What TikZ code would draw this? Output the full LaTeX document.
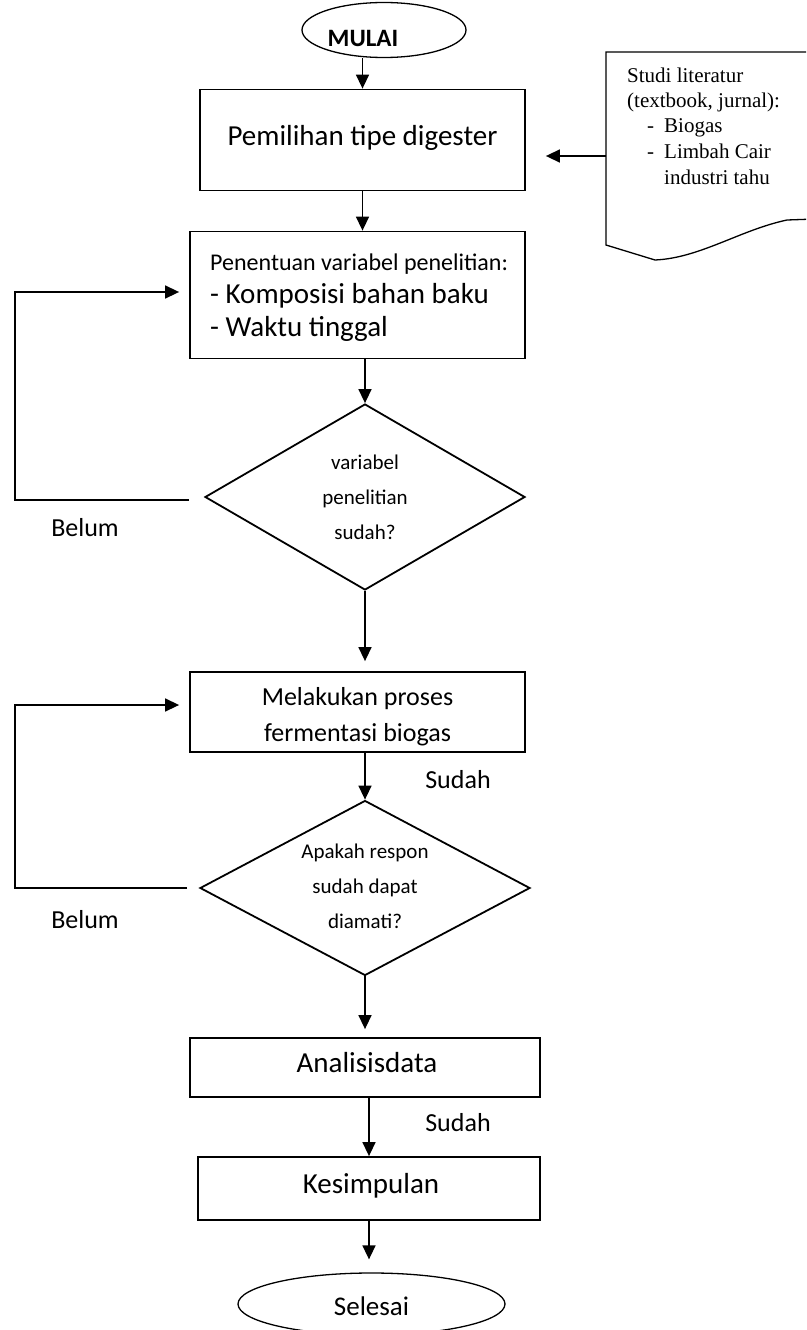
\documentclass[tikz,border=0pt]{standalone}
\usepackage{fontspec}
\setmainfont{Carlito}
\newfontfamily\tnr{Liberation Serif}
\usetikzlibrary{shapes.geometric,arrows.meta}
\begin{document}
\begin{tikzpicture}[x=1pt,y=-1pt,
  boxx/.style={draw, rectangle, line width=1.8pt, inner sep=0pt},
  dia/.style={draw, diamond, line width=1.8pt, inner sep=0pt},
  ell/.style={draw, ellipse, line width=1.3pt, inner sep=0pt},
  arr/.style={-{Triangle[length=14pt,width=13pt]}, line width=1.5pt},
  bigt/.style={font=\fontsize{29}{33}\selectfont},
  midt/.style={font=\fontsize{26}{36}\selectfont},
  smallt/.style={font=\fontsize{21}{35}\selectfont, align=center},
  lbl/.style={font=\fontsize{26}{30}\selectfont},
  doct/.style={font=\tnr\fontsize{21}{25}\selectfont, anchor=base west, inner sep=0pt}
]
\useasboundingbox (0,0) rectangle (806,1330);
\clip (0,0) rectangle (806,1330);

% start
\node[ell, minimum width=164pt, minimum height=55pt] (mulai) at (384,30) {};
\node[font=\fontsize{25}{28}\selectfont\bfseries] (tm) at (363,38) {MULAI};

% box 1
\node[boxx, minimum width=325pt, minimum height=101pt] (b1) at (362.5,140) {};
\node[bigt] (t1) at (362.5,138) {Pemilihan tipe digester};

% document shape
\draw[line width=1.3pt] (606,245) -- (606,52) -- (815,52) -- (815,219)
  -- (787,220) .. controls (740,230) and (700,258) .. (655,260) -- cycle;
\node[doct] (s1) at (627,82) {Studi literatur};
\node[doct] (s2) at (627,107) {(textbook, jurnal):};
\node[doct] (s3) at (647,132) {\makebox[17pt][l]{-}Biogas};
\node[doct] (s4) at (647,158) {\makebox[17pt][l]{-}Limbah Cair};
\node[doct] (s5) at (664,184) {industri tahu};
\coordinate (docA) at (606,156);
\draw[arr, shorten >=20pt] (docA) -- (docA -| b1.east);

% box 2
\node[boxx, minimum width=335pt, minimum height=127pt] (b2) at (357.5,295) {};
\node[font=\fontsize{29}{33}\selectfont, align=left, anchor=west, inner sep=0pt] (t2) at (210,298)
  {{\fontsize{24}{33}\selectfont Penentuan variabel penelitian:}\\- Komposisi bahan baku\\- Waktu tinggal};

% diamond 1
\node[dia, minimum width=320pt, minimum height=186pt] (d1) at (365,497) {};
\node[smallt] (td1) at (365,497) {variabel\\penelitian\\sudah?};
\node[lbl] (bel1) at (85,528) {Belum};

% box 3
\node[boxx, minimum width=335pt, minimum height=80pt] (b3) at (357.5,712) {};
\node[midt, align=center] (t3) at (357.5,717) {Melakukan proses\\fermentasi biogas};

% diamond 2
\node[dia, minimum width=330pt, minimum height=175pt] (d2) at (365,888) {};
\node[smallt] (td2) at (365,886) {Apakah respon\\sudah dapat\\diamati?};
\node[lbl] (bel2) at (85,920) {Belum};
\node[lbl] (sud1) at (458,780) {Sudah};

% box 4
\node[boxx, minimum width=350pt, minimum height=59pt] (b4) at (365,1067.5) {};
\node[bigt] (t4) at (367,1063) {Analisisdata};
\node[lbl] (sud2) at (458,1123) {Sudah};

% box 5
\node[boxx, minimum width=342pt, minimum height=63pt] (b5) at (369,1188.5) {};
\node[bigt] (t5) at (371,1186) {Kesimpulan};

% end
\node[ell, minimum width=267pt, minimum height=62pt] (end) at (371.5,1304) {};
\node[font=\fontsize{27}{30}\selectfont] (te) at (371.5,1306) {Selesai};

% connectors
\draw[arr] (mulai.south -| b1.north) -- (b1.north);
\draw[arr] (b1.south) -- (b1.south |- b2.north);
\draw[arr] (d1.north |- b2.south) -- (d1.north);
\draw[arr, shorten >=10pt] (d1.south) -- (d1.south |- b3.north);
\draw[arr] (d2.north |- b3.south) -- (d2.north);
\draw[arr, shorten >=8pt] (d2.south) -- (d2.south |- b4.north);
\draw[arr] (b5.north |- b4.south) -- (b5.north);
\draw[arr, shorten >=13pt] (b5.south) -- (b5.south |- end.north);

% loops
\coordinate (L1) at (15,292);
\coordinate (L2) at (15,705);
\draw[arr, shorten >=10pt] ([xshift=-15pt,yshift=-3pt]d1.west) -- ([yshift=-3pt]d1.west -| L1) -- (L1) -- (L1 -| b2.west);
\draw[arr, shorten >=10pt] ([xshift=-12pt]d2.west) -- (d2.west -| L2) -- (L2) -- (L2 -| b3.west);
\end{tikzpicture}
\end{document}
